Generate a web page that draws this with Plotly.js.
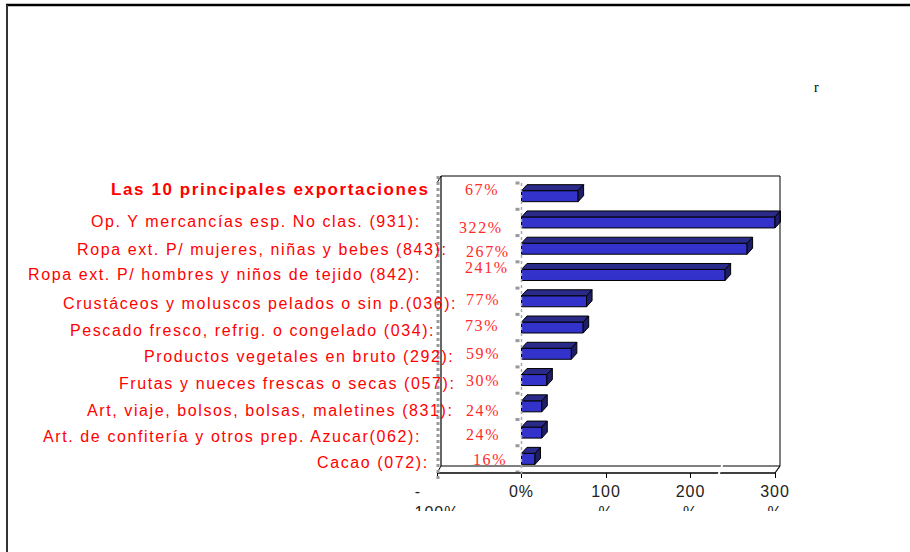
<!DOCTYPE html>
<html><head><meta charset="utf-8">
<script src="https://cdn.plot.ly/plotly-3.0.1.min.js"></script>
<style>
html,body{margin:0;padding:0;background:#fff;}
#chart{width:910px;height:552px;}
text.annotation-text{letter-spacing:1.6px;}
.xtick text{letter-spacing:1px;}
</style></head><body><div id="chart"></div>
<script>
// ---------- data ----------
const categories = [
  'Las 10 principales exportaciones',
  'Op. Y mercancías esp. No clas. (931):',
  'Ropa ext. P/ mujeres, niñas y bebes (843):',
  'Ropa ext. P/ hombres y niños de tejido (842):',
  'Crustáceos y moluscos pelados o sin p.(036):',
  'Pescado fresco, refrig. o congelado (034):',
  'Productos vegetales en bruto (292):',
  'Frutas y nueces frescas o secas (057):',
  'Art, viaje, bolsos, bolsas, maletines (831):',
  'Art. de confitería y otros prep. Azucar(062):',
  'Cacao (072):'
];
const growthPct = [67, 322, 267, 241, 77, 73, 59, 30, 24, 24, 16];
const tickVals = [-100, 0, 100, 200, 300];
const tickLabels = ['-\u00a0\u00a0\u00a0\u00a0\u00a0\u00a0\u00a0<br>100%', '0%', '100<br>%', '200<br>%', '300<br>%'];
const cornerNote = 'r';

// ---------- layout geometry (pixels) ----------
const W = 910, H = 552;
const L = 437, R = 781, T = 176, B = 472;
const XMIN = -100, XMAX = 300;
const PXU = (775 - 437) / (XMAX - XMIN);      // px per % unit
const xEnd = XMIN + (R - L) / PXU;
const CAT = 26.27;                              // px per category
const n = categories.length;
const yRange = [n - 0.5, n - 0.5 - (B - T) / CAT];
const fx = px => (px - L) / (R - L);
const fy = py => (B - py) / (B - T);

const BAR_W = 11 / CAT;
const dxU = 5.5 / PXU, dyU = 6 / CAT;

// per-label placement (layout only)
const labelRight = [432, 423, 449, 423, 459, 437, 456, 457, 456, 423, 431];
const labelDy    = [-7, -1, 0.5, 0, 2, 2.6, 2.4, 3, 4, 3.6, 4];
const valueLeft  = [463, 457, 464, 463, 464, 463, 464, 464, 464, 464, 471];
const valueDy    = [-7, 5, 2.5, -7, -2, -2, 0, 0, 4, 2, 1];

const idx = categories.map((_, i) => i);
const shown = growthPct.map(v => Math.min(v, XMAX));

// 3D faces
const topX = [], topY = [], sideX = [], sideY = [];
shown.forEach((v, i) => {
  const yt = i - BAR_W / 2, yb = i + BAR_W / 2;
  topX.push(0, v, v + dxU, dxU, 0, null);
  topY.push(yt, yt, yt - dyU, yt - dyU, yt, null);
  sideX.push(v, v, v + dxU, v + dxU, v, null);
  sideY.push(yt, yb, yb - dyU, yt - dyU, yt, null);
});

const traces = [
  {type: 'bar', orientation: 'h', x: shown, y: idx, width: BAR_W,
   marker: {color: '#3333CC', line: {color: '#000', width: 1}}, hoverinfo: 'none'},
  {type: 'scatter', mode: 'lines', x: topX, y: topY, fill: 'toself', fillcolor: '#2A2A88',
   line: {color: '#000', width: 1}, hoverinfo: 'none'},
  {type: 'scatter', mode: 'lines', x: sideX, y: sideY, fill: 'toself', fillcolor: '#1E1E66',
   line: {color: '#000', width: 1}, hoverinfo: 'none'}
];

function seg(x0, y0, x1, y1, color, width, dash) {
  return {type: 'line', xref: 'paper', yref: 'paper', x0: fx(x0), y0: fy(y0), x1: fx(x1), y1: fy(y1),
          line: {color: color, width: width, dash: dash || 'solid'}, layer: 'above'};
}
const shapes = [
  seg(6, 5, 910, 5, '#000', 2.5),
  seg(7, 5, 7, 552, '#333', 2),
  seg(441, 176, 780, 176, '#000', 1),
  seg(780, 176, 780, 466, '#000', 1),
  seg(441, 176, 441, 466, '#000', 1.2),
  seg(437, 183, 441, 176, '#000', 1),
  seg(441, 466, 780, 466, '#000', 1.2),
  seg(437, 473, 775, 473, '#000', 1.5),
  seg(775, 473, 780, 466, '#000', 1.2),
  seg(437, 473, 441, 466, '#000', 1),
  seg(438, 176, 438, 480, '#999', 3, 'dot'),
  {type: 'line', xref: 'x', yref: 'paper', x0: 0, x1: 0, y0: fy(183), y1: fy(475),
   line: {color: '#aaa', width: 1.5, dash: 'dot'}, layer: 'above'},
  seg(718, 476, 723, 463, '#fff', 2),
  {type: 'rect', xref: 'paper', yref: 'paper', x0: fx(380), x1: fx(830), y0: fy(511), y1: fy(548),
   fillcolor: '#fff', line: {width: 0}, layer: 'above'}
];
for (let k = 0; k <= n; k++) {
  shapes.push({type: 'line', xref: 'paper', yref: 'y', x0: fx(515.5), x1: fx(519.5), y0: k - 0.5, y1: k - 0.5,
               line: {color: '#999', width: 3}, layer: 'above'});
}

const annotations = [];
categories.forEach((c, i) => {
  annotations.push({xref: 'paper', yref: 'y', x: fx(labelRight[i]), y: i, yshift: -labelDy[i],
    xanchor: 'right', yanchor: 'middle', showarrow: false, text: c,
    font: {family: 'Liberation Sans, Arial, sans-serif', size: i === 0 ? 17 : 16, color: '#FF0000', weight: i === 0 ? 'bold' : 'normal'}});
  annotations.push({xref: 'paper', yref: 'y', x: fx(valueLeft[i]), y: i, yshift: -valueDy[i],
    xanchor: 'left', yanchor: 'middle', showarrow: false, text: growthPct[i] + '%',
    font: {family: 'Liberation Serif, Times New Roman, serif', size: 16, color: '#FF2B2B'}});
});
annotations.push({xref: 'paper', yref: 'paper', x: fx(817), y: fy(87), xanchor: 'center', yanchor: 'middle',
  showarrow: false, text: cornerNote,
  font: {family: 'Liberation Serif, serif', size: 14, color: '#000'}});

const layout = {
  width: W, height: H, autosize: false,
  margin: {l: L, r: W - R, t: T, b: H - B, pad: 0},
  paper_bgcolor: '#fff', plot_bgcolor: 'rgba(0,0,0,0)',
  showlegend: false, bargap: 0,
  xaxis: {range: [XMIN, xEnd], tickvals: tickVals, ticktext: tickLabels, ticks: 'outside', ticklen: 5,
          tickcolor: '#000', tickwidth: 1, showgrid: false, zeroline: false, showline: false,
          tickfont: {family: 'Liberation Sans, Arial, sans-serif', size: 16, color: '#222'}, fixedrange: true},
  yaxis: {range: yRange, showticklabels: false, showgrid: false, zeroline: false, showline: false,
          ticks: '', fixedrange: true},
  shapes: shapes, annotations: annotations
};
Plotly.newPlot('chart', traces, layout, {staticPlot: true, displayModeBar: false});
</script></body></html>
